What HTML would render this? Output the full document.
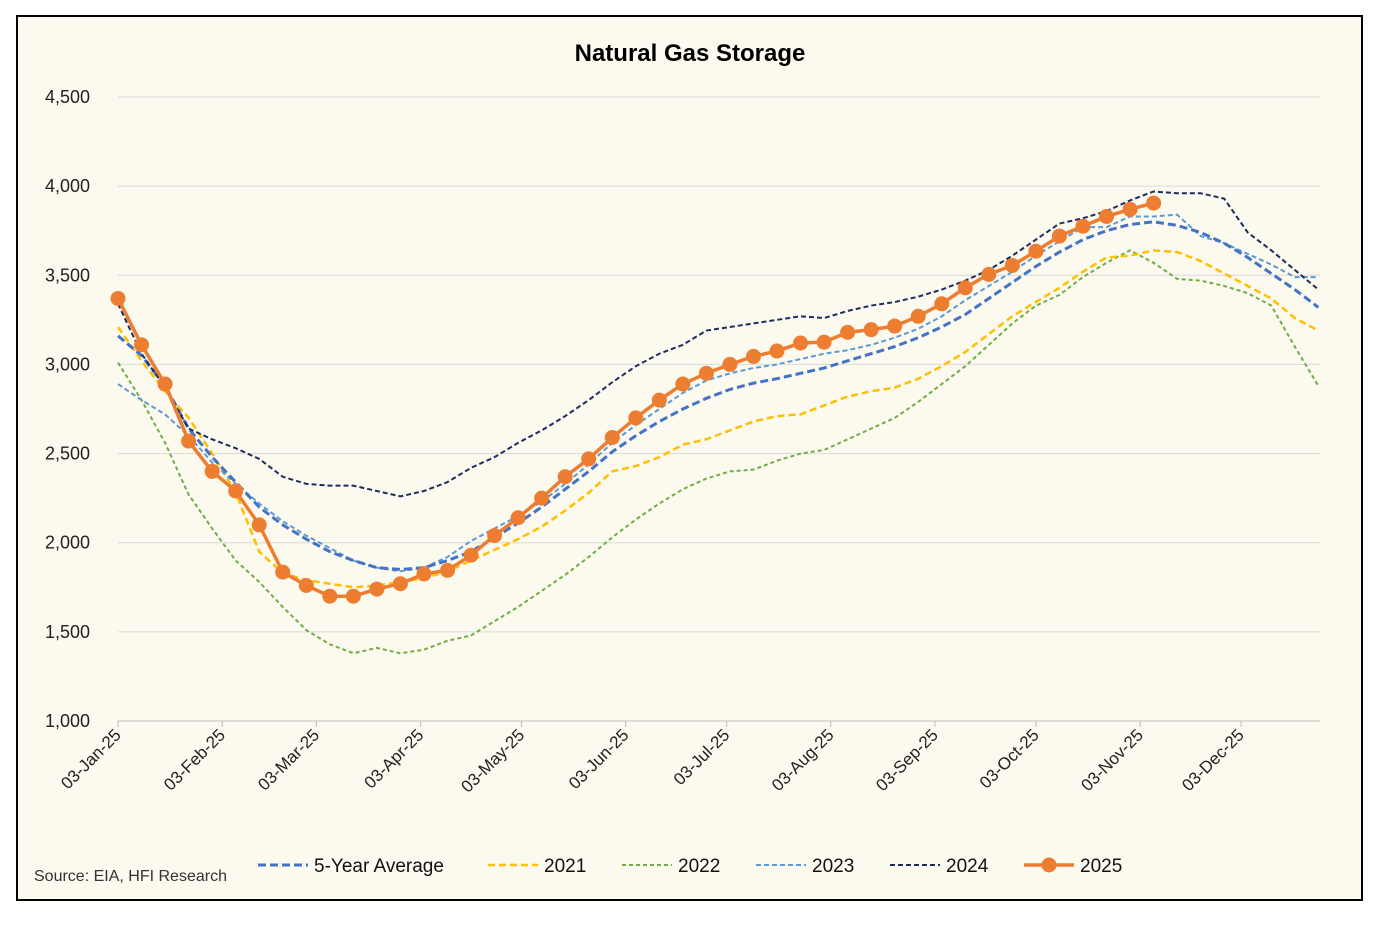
<!DOCTYPE html>
<html><head><meta charset="utf-8">
<style>
html,body{margin:0;padding:0;background:#fff;}
body{width:1382px;height:920px;overflow:hidden;font-family:"Liberation Sans",sans-serif;}
svg text{font-family:"Liberation Sans",sans-serif;}
</style></head>
<body>
<svg id="chart" width="1382" height="920">
<rect x="17" y="16" width="1345" height="884" fill="#fcf9ef" stroke="#000" stroke-width="2"/>
<text x="690" y="61" text-anchor="middle" font-size="24" font-weight="bold" fill="#000">Natural Gas Storage</text>
<g id="grid"></g><g id="xaxis"></g><g id="series"></g><g id="legend"></g>
<text x="34" y="881" font-size="16" fill="#333">Source: EIA, HFI Research</text>
</svg>
<script>
const yTicks=[1000,1500,2000,2500,3000,3500,4000,4500];
const xLabels=["03-Jan-25","03-Feb-25","03-Mar-25","03-Apr-25","03-May-25","03-Jun-25","03-Jul-25","03-Aug-25","03-Sep-25","03-Oct-25","03-Nov-25","03-Dec-25"];
const xLabelDays=[0,31,59,90,120,151,181,212,243,273,304,334];
const avg5=[3160,3050,2880,2640,2480,2340,2200,2100,2020,1950,1900,1860,1850,1860,1900,1950,2030,2110,2200,2300,2400,2510,2600,2680,2750,2810,2860,2895,2920,2950,2980,3020,3060,3100,3150,3210,3280,3370,3460,3550,3630,3700,3750,3785,3800,3780,3740,3680,3600,3510,3420,3320];
const y2021=[3210,3020,2850,2700,2500,2280,1950,1830,1790,1770,1750,1760,1780,1800,1840,1900,1960,2020,2090,2180,2280,2400,2430,2480,2550,2580,2630,2680,2710,2720,2770,2820,2850,2870,2920,2990,3070,3170,3270,3350,3430,3520,3600,3610,3640,3630,3580,3510,3440,3370,3260,3190];
const y2022=[3010,2800,2560,2270,2080,1900,1780,1640,1510,1430,1380,1410,1380,1400,1450,1480,1560,1640,1730,1820,1920,2030,2130,2220,2300,2360,2400,2410,2460,2500,2520,2580,2640,2700,2790,2890,2990,3110,3230,3330,3390,3490,3570,3640,3570,3480,3470,3440,3400,3330,3100,2880];
const y2023=[2890,2800,2720,2600,2450,2330,2220,2120,2040,1970,1900,1860,1840,1860,1920,2010,2080,2150,2230,2330,2440,2560,2660,2750,2840,2910,2950,2980,3000,3030,3060,3080,3110,3150,3200,3270,3360,3440,3520,3610,3690,3770,3770,3830,3830,3840,3720,3680,3620,3560,3490,3490];
const y2024=[3340,3060,2870,2640,2580,2530,2470,2370,2330,2320,2320,2290,2260,2290,2340,2420,2480,2560,2630,2710,2800,2900,2990,3060,3110,3190,3210,3230,3250,3270,3260,3300,3330,3350,3380,3420,3470,3530,3610,3700,3790,3820,3860,3920,3970,3960,3960,3930,3740,3640,3530,3420];
const y2025=[3370,3110,2890,2570,2400,2290,2100,1835,1760,1700,1700,1740,1770,1825,1845,1930,2040,2140,2250,2370,2470,2590,2700,2800,2890,2950,3000,3045,3075,3120,3125,3180,3195,3215,3270,3340,3430,3505,3555,3635,3720,3775,3830,3870,3905];

const NS="http://www.w3.org/2000/svg";
const X0=118,X1=1320,PXDAY=(1241-118)/334;
const xDay=d=>X0+d*PXDAY;
const xWeek=w=>xDay(w*7);
const yVal=v=>721-(v-1000)*(721-97)/3500;
function mk(tag,attrs,parent){const e=document.createElementNS(NS,tag);for(const k in attrs)e.setAttribute(k,attrs[k]);parent.appendChild(e);return e;}
const grid=document.getElementById('grid'),xa=document.getElementById('xaxis'),ser=document.getElementById('series'),leg=document.getElementById('legend');
yTicks.forEach(t=>{
  const y=yVal(t);
  if(t>1000){const l=mk('line',{x1:X0,x2:X1,y1:y,y2:y,stroke:'#d9d9d9','stroke-width':1},grid);
  
  }
  const tx=mk('text',{x:90,y:y+6,'text-anchor':'end','font-size':18,fill:'#222'},grid);tx.textContent=t.toLocaleString('en-US');
  
  
});
const ax=mk('line',{x1:X0,x2:X1,y1:721,y2:721,stroke:'#bfbfbf','stroke-width':1},xa);


xLabels.forEach((lab,i)=>{
  const x=xDay(xLabelDays[i]);
  mk('line',{x1:x,x2:x,y1:721,y2:727,stroke:'#bfbfbf'},xa);
  const tx=mk('text',{x:x+4,y:736,'text-anchor':'end','font-size':17,fill:'#222',transform:`rotate(-45 ${x+4} 736)`},xa);tx.textContent=lab;
  
  
});
const defs=[
 {name:'2022',data:y2022,color:'#70ad47',w:2,dash:'4 3'},
 {name:'2021',data:y2021,color:'#ffc000',w:2.5,dash:'7 4'},
 {name:'2023',data:y2023,color:'#5b9bd5',w:2,dash:'5 3'},
 {name:'5-Year Average',data:avg5,color:'#4472c4',w:3,dash:'8 4'},
 {name:'2024',data:y2024,color:'#1f2d5c',w:2,dash:'5 3'},
];
defs.forEach(s=>{
  const p=mk('polyline',{points:s.data.map((v,i)=>xWeek(i)+','+yVal(v)).join(' '),fill:'none',stroke:s.color,'stroke-width':s.w,'stroke-dasharray':s.dash},ser);
  
  
});
const p25=mk('polyline',{points:y2025.map((v,i)=>xWeek(i)+','+yVal(v)).join(' '),fill:'none',stroke:'#ed7d31','stroke-width':3.5},ser);


y2025.forEach((v,i)=>{
  const c=mk('circle',{cx:xWeek(i),cy:yVal(v),r:7.5,fill:'#ed7d31'},ser);
  
  
});
const legItems=[
 {name:'5-Year Average',color:'#4472c4',w:3,dash:'8 4',x:258},
 {name:'2021',color:'#ffc000',w:2.5,dash:'7 4',x:488},
 {name:'2022',color:'#70ad47',w:2,dash:'4 3',x:622},
 {name:'2023',color:'#5b9bd5',w:2,dash:'5 3',x:756},
 {name:'2024',color:'#1f2d5c',w:2,dash:'5 3',x:890},
 {name:'2025',color:'#ed7d31',w:3.5,dash:'',x:1024},
];
legItems.forEach(it=>{
  const g=mk('g',{},leg);
  
  
  const a={x1:it.x,x2:it.x+50,y1:865,y2:865,stroke:it.color,'stroke-width':it.w};
  if(it.dash)a['stroke-dasharray']=it.dash;
  mk('line',a,g);
  if(it.name==='2025')mk('circle',{cx:it.x+25,cy:865,r:7.5,fill:it.color},g);
  const t=mk('text',{x:it.x+56,y:872,'font-size':19,fill:'#111'},g);t.textContent=it.name;
});
</script>
</body></html>
